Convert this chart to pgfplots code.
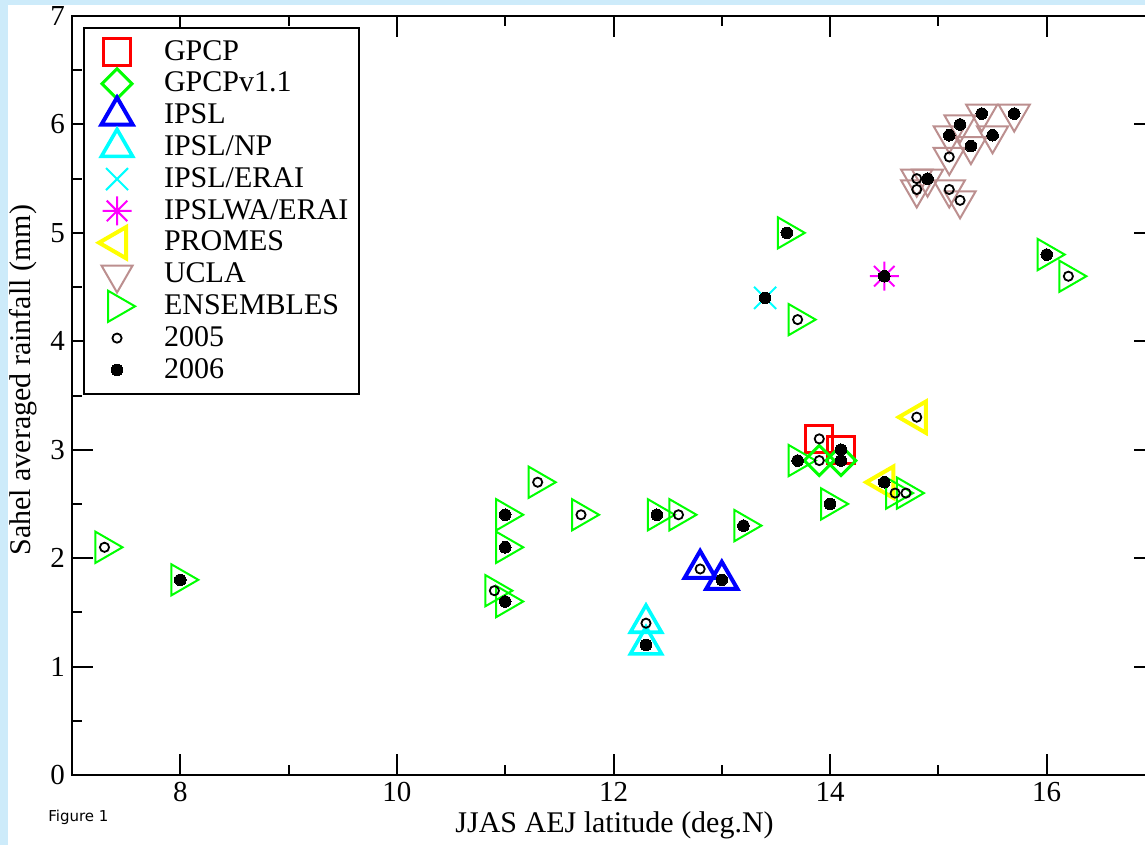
\documentclass[border=0pt]{standalone}
\usepackage{fontspec}
\setmainfont{Liberation Serif}
\newfontfamily\figfont{DejaVu Sans}
\usepackage{pgfplots}
\pgfplotsset{compat=1.18}
\definecolor{bgblue}{RGB}{205,235,250}
\definecolor{xgreen}{RGB}{0,255,0}
\definecolor{xcyan}{RGB}{0,255,255}
\definecolor{xbrown}{RGB}{188,143,143}
\definecolor{xyellow}{RGB}{255,255,0}
\definecolor{xmag}{RGB}{255,0,255}
\definecolor{xred}{RGB}{255,0,0}
\definecolor{xblue}{RGB}{0,0,255}
\pgfdeclareplotmark{star8}{%
  \pgfpathmoveto{\pgfqpoint{-\pgfplotmarksize}{0pt}}\pgfpathlineto{\pgfqpoint{\pgfplotmarksize}{0pt}}%
  \pgfpathmoveto{\pgfqpoint{0pt}{-\pgfplotmarksize}}\pgfpathlineto{\pgfqpoint{0pt}{\pgfplotmarksize}}%
  \pgfpathmoveto{\pgfqpoint{-0.7071\pgfplotmarksize}{-0.7071\pgfplotmarksize}}\pgfpathlineto{\pgfqpoint{0.7071\pgfplotmarksize}{0.7071\pgfplotmarksize}}%
  \pgfpathmoveto{\pgfqpoint{-0.7071\pgfplotmarksize}{0.7071\pgfplotmarksize}}\pgfpathlineto{\pgfqpoint{0.7071\pgfplotmarksize}{-0.7071\pgfplotmarksize}}%
  \pgfusepathqstroke}
\begin{document}
\begin{tikzpicture}
\fill[white] (-36pt,-35pt) rectangle (536.5pt,387.5pt);
\fill[bgblue] (-36pt,385pt) rectangle (536.5pt,387.5pt);
\fill[bgblue] (-36pt,-35pt) rectangle (-32pt,387.5pt);
\begin{axis}[
  scale only axis, width=541.5pt, height=379.5pt,
  xmin=7, xmax=17, ymin=0, ymax=7,
  xtick={8,10,12,14,16}, minor xtick={9,11,13,15},
  ytick={0,1,2,3,4,5,6,7}, minor ytick={0.5,1.5,2.5,3.5,4.5,5.5,6.5},
  major tick length=10.5pt, minor tick length=5pt,
  every tick/.style={black, line width=1pt},
  axis line style={line width=1pt},
  tick label style={font=\fontsize{14.5}{16}\selectfont},
  /pgf/number format/assume math mode=true,
  label style={font=\fontsize{15}{18}\selectfont},
  xlabel={JJAS AEJ latitude (deg.N)},
  ylabel={Sahel averaged rainfall (mm)},
  xlabel style={at={(axis description cs:0.501,-0.0764)}, anchor=base},
  ylabel style={at={(axis description cs:-0.0379,0.52)}, anchor=base},
  legend cell align=left,
  legend style={at={(axis description cs:0.0102,0.9855)}, anchor=north west,
    draw=black, line width=1pt, fill=white, inner xsep=5.5pt, inner ysep=4pt,
    column sep=12.5pt, row sep=0pt, font=\fontsize{15}{16}\selectfont,
    nodes={inner sep=0pt, text height=12pt, text depth=3.9pt}},
  legend image code/.code={\path[draw=none,fill=none] (0pt,-4pt) rectangle (22pt,4pt);
    \draw[overlay,mark repeat=2,mark phase=2,#1] plot coordinates {(0pt,0pt) (11pt,0pt) (22pt,0pt)};},
]
% GPCP
\addplot[only marks, mark=square, mark size=6.75pt, xred, mark options={line width=1.5pt}]
  coordinates {(13.9,3.1) (14.1,3.0)};
\addlegendentry{GPCP}
% GPCPv1.1
\addplot[only marks, mark=square, mark size=5.3pt, xgreen, mark options={line width=1.5pt, rotate=45}]
  coordinates {(13.9,2.9) (14.1,2.9)};
\addlegendentry{GPCPv1.1}
% IPSL
\addplot[only marks, mark=triangle, mark size=9pt, xblue, mark options={line width=2pt}]
  coordinates {(12.8,1.9) (13.0,1.8)};
\addlegendentry{IPSL}
% IPSL/NP
\addplot[only marks, mark=triangle, mark size=9pt, xcyan, mark options={line width=1.8pt}]
  coordinates {(12.3,1.4) (12.3,1.2)};
\addlegendentry{IPSL/NP}
% IPSL/ERAI
\addplot[only marks, mark=x, mark size=7.8pt, xcyan, mark options={line width=1pt}]
  coordinates {(13.4,4.4)};
\addlegendentry{IPSL/ERAI}
% IPSLWA/ERAI
\addplot[only marks, mark=star8, mark size=7.25pt, xmag, mark options={line width=1pt}]
  coordinates {(14.5,4.6)};
\addlegendentry{IPSLWA/ERAI}
% PROMES
\addplot[only marks, mark=triangle, mark size=9pt, xyellow, mark options={line width=2pt, rotate=90}]
  coordinates {(14.8,3.3) (14.5,2.7)};
\addlegendentry{PROMES}
% UCLA
\addplot[only marks, mark=triangle, mark size=9pt, xbrown, mark options={line width=1pt, rotate=180}]
  coordinates {(15.4,6.1) (15.7,6.1) (15.2,6.0) (15.1,5.9) (15.5,5.9) (15.3,5.8)
               (15.1,5.7) (14.8,5.5) (14.9,5.5) (14.8,5.4) (15.1,5.4) (15.2,5.3)};
\addlegendentry{UCLA}
% ENSEMBLES
\addplot[only marks, mark=triangle, mark size=9pt, xgreen, mark options={line width=1pt, rotate=-90}]
  coordinates {(7.3,2.1) (8.0,1.8) (10.9,1.7) (11.0,1.6) (11.0,2.1) (11.0,2.4)
               (11.3,2.7) (11.7,2.4) (12.4,2.4) (12.6,2.4) (13.2,2.3) (13.6,5.0)
               (13.7,4.2) (13.7,2.9) (14.0,2.5) (14.6,2.6) (14.7,2.6) (16.0,4.8) (16.2,4.6)};
\addlegendentry{ENSEMBLES}
% 2005
\addplot[only marks, mark=o, mark size=2.3pt, black, mark options={line width=0.9pt}]
  coordinates {(13.9,3.1) (13.9,2.9) (12.8,1.9) (12.3,1.4) (14.8,3.3)
               (15.1,5.7) (14.8,5.5) (14.8,5.4) (15.1,5.4) (15.2,5.3)
               (7.3,2.1) (10.9,1.7) (11.3,2.7) (11.7,2.4) (12.6,2.4) (13.7,4.2) (14.6,2.6) (14.7,2.6) (16.2,4.6)};
\addlegendentry{2005}
% 2006
\addplot[only marks, mark=*, mark size=2.9pt, black, mark options={line width=0pt}]
  coordinates {(14.1,3.0) (14.1,2.9) (13.0,1.8) (12.3,1.2) (13.4,4.4) (14.5,4.6) (14.5,2.7)
               (15.4,6.1) (15.7,6.1) (15.2,6.0) (15.1,5.9) (15.5,5.9) (15.3,5.8) (14.9,5.5)
               (8.0,1.8) (11.0,2.4) (11.0,2.1) (11.0,1.6) (12.4,2.4) (13.2,2.3) (13.6,5.0) (13.7,2.9) (14.0,2.5) (16.0,4.8)};
\addlegendentry{2006}
\end{axis}
\node[anchor=base west, inner sep=0pt, font=\figfont\fontsize{7.5}{9}\selectfont] at (-12pt,-23.5pt) {Figure 1};
\pgfresetboundingbox
\path[use as bounding box] (-36pt,-35pt) rectangle (536.5pt,387.5pt);
\end{tikzpicture}
\end{document}
